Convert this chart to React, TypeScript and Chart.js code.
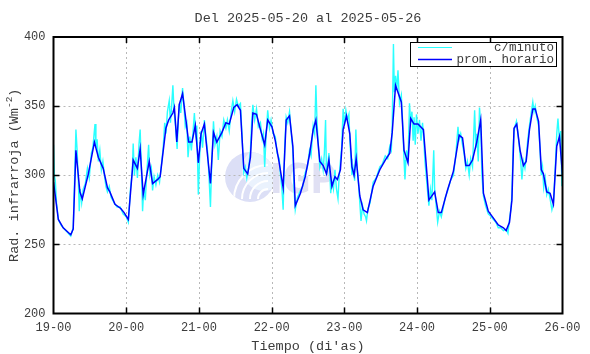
import { useEffect, useRef } from "react";
import { Chart, registerables } from "chart.js";

Chart.register(...registerables);

const TITLE = "Del 2025-05-20 al 2025-05-26";
const X_TITLE = "Tiempo (di'as)";
const Y_TITLE_MAIN = "Rad. infrarroja (Wm";
const Y_TITLE_SUP = "-2";
const Y_TITLE_END = ")";
const xTickLabels = ["19-00", "20-00", "21-00", "22-00", "23-00", "24-00", "25-00", "26-00"];
const yTicks = [200, 250, 300, 350, 400];
const legendLabels = ["c/minuto", "prom. horario"];

// hourly average (hours since 19-00)
const blueHours = [
  0, 1.6, 3.2, 5.7, 6.5, 7.4, 8.7, 9.5, 11.5, 13.5,
  14.8, 16.4, 17.8, 18.6, 20.3, 22.2, 23.3, 24.7, 26.3, 27.7,
  28.6, 29.6, 31.6, 32.7, 34.4, 35.2, 37.1, 38, 39.4, 39.9,
  40.7, 41.5, 42.6, 43.7, 44.6, 45.7, 46.8, 47.8, 48.7, 49.8,
  50.9, 51.8, 52.8, 53.9, 55.6, 56.9, 58, 59.5, 60.6, 61.7,
  62.8, 64.1, 65, 65.8, 67, 68.3, 69.7, 70.7, 72.1, 73.2,
  74.5, 75.8, 76.8, 77.9, 79, 79.8, 81.5, 83.1, 84.5, 85.7,
  86.6, 87.9, 89, 90.1, 90.9, 91.9, 92.9, 93.7, 94.7, 95.6,
  96.7, 97.8, 98.5, 99.2, 99.9, 101.1, 102.2, 103.6, 105.5, 107.7,
  109.5, 111, 111.8, 112.9, 114.8, 115.7, 117, 117.9, 119, 120.3,
  122.1, 123.4, 123.9, 125.8, 127, 128, 130, 132, 133.9, 135,
  136.1, 137.2, 138.3, 139.7, 141, 141.9, 143.5, 145.2, 146.8, 148.5,
  149.4, 150.5, 151.3, 152, 152.9, 154, 155.1, 156, 157.1, 158.2,
  159, 160.1, 161, 161.7, 162.8, 163.9, 165, 166.1, 167, 168,
];
const blueValues = [
  295, 268, 262, 257, 261, 318, 288, 283, 301, 324,
  313, 305, 291, 288, 279, 276, 273, 268, 311, 305,
  319, 286, 310, 294, 297, 299, 334, 340, 345, 349,
  324, 351, 359, 340, 324, 324, 336, 309, 330, 337,
  313, 294, 331, 324, 331, 338, 337, 349, 351, 347,
  305, 301, 313, 345, 344, 333, 322, 340, 335, 325,
  309, 291, 340, 343, 321, 278, 287, 299, 315, 333,
  340, 310, 307, 301, 311, 292, 299, 297, 304, 333,
  343, 330, 306, 300, 312, 285, 275, 273, 292, 304,
  311, 316, 331, 365, 353, 318, 309, 341, 337, 337,
  333, 297, 282, 288, 273, 273, 289, 303, 329, 327,
  307, 307, 311, 324, 340, 287, 274, 269, 264, 262,
  260, 266, 282, 334, 337, 318, 307, 310, 333, 348,
  348, 339, 304, 301, 288, 287, 279, 321, 328, 300,
];

// per-minute readings, estimated [hour, value]
const minuteSamples: [number, number][] = [
  [0, 322], [0.3, 300], [0.6, 296], [1, 280], [1.6, 268], [2.5, 264], [3.2, 262], [4.5, 259], [5.7, 256], [6.5, 262],
  [7, 300], [7.4, 333], [7.8, 318], [8.2, 296], [8.5, 274], [8.8, 290], [9.3, 280], [9.8, 290], [10.5, 294], [11.2, 305],
  [11.8, 298], [12.5, 316], [13, 320], [13.4, 330], [13.7, 337], [14, 320], [14.4, 326], [14.8, 310], [15.3, 318], [15.8, 304],
  [16.3, 310], [16.8, 300], [17.3, 292], [17.8, 288], [18.4, 292], [19, 284], [20, 280], [21, 277], [22, 277], [23, 272],
  [24, 270], [24.7, 266], [25.4, 290], [26, 302], [26.3, 323], [26.7, 300], [27.2, 313], [27.7, 298], [28.2, 322], [28.6, 333],
  [29, 306], [29.4, 274], [29.8, 290], [30.3, 282], [30.8, 302], [31.4, 322], [31.8, 300], [32.3, 305], [32.7, 289], [33.2, 299],
  [33.8, 293], [34.4, 300], [35, 295], [35.5, 305], [36.2, 320], [36.7, 338], [37.1, 330], [37.6, 346], [38.2, 354], [38.6, 338],
  [39, 350], [39.4, 365], [39.8, 346], [40.3, 335], [40.8, 319], [41.2, 340], [41.6, 352], [42, 345], [42.6, 363], [43, 352],
  [43.5, 335], [44, 338], [44.4, 313], [45, 328], [45.5, 318], [46, 330], [46.5, 345], [46.9, 330], [47.3, 336], [47.8, 286],
  [48.2, 312], [48.7, 332], [49.2, 320], [49.8, 340], [50.3, 328], [50.9, 316], [51.3, 300], [51.8, 277], [52.2, 306], [52.8, 339],
  [53.3, 322], [53.9, 328], [54.4, 311], [55, 332], [55.6, 328], [56.2, 340], [56.9, 334], [57.4, 340], [58, 332], [58.6, 345],
  [59.2, 354], [59.8, 346], [60.4, 355], [61, 350], [61.7, 352], [62.2, 330], [62.8, 302], [63.3, 306], [63.8, 298], [64.4, 305],
  [65, 318], [65.4, 338], [65.8, 351], [66.4, 340], [67, 348], [67.6, 335], [68.3, 338], [68.9, 326], [69.3, 330], [69.7, 306],
  [70.2, 330], [70.7, 347], [71.3, 334], [71.8, 340], [72.5, 330], [73.2, 328], [73.8, 316], [74.5, 312], [75, 298], [75.4, 290],
  [75.8, 275], [76.3, 320], [76.8, 342], [77.3, 338], [77.9, 346], [78.5, 330], [79, 318], [79.4, 290], [79.8, 275], [80.5, 284],
  [81.5, 289], [82.3, 292], [83.1, 302], [83.8, 306], [84.5, 318], [85, 314], [85.7, 336], [86.2, 330], [86.6, 365], [87, 338],
  [87.5, 318], [87.9, 306], [88.5, 312], [89, 304], [89.4, 316], [89.8, 340], [90.1, 300], [90.5, 306], [90.9, 316], [91.5, 287],
  [91.9, 296], [92.4, 290], [92.9, 304], [93.4, 290], [93.9, 283], [94.3, 300], [94.7, 310], [95.1, 320], [95.6, 348], [96, 336],
  [96.5, 347], [97, 340], [97.5, 344], [97.8, 326], [98.2, 312], [98.5, 300], [98.9, 305], [99.4, 296], [99.8, 333], [100.3, 304],
  [100.8, 290], [101.1, 280], [101.5, 267], [102, 278], [102.5, 272], [103, 270], [103.3, 267], [103.8, 276], [104.5, 280], [105.5, 295],
  [106.5, 298], [107.7, 306], [108.5, 308], [109.5, 314], [110.3, 312], [111, 321], [111.5, 318], [111.8, 336], [112.2, 395], [112.5, 360],
  [112.9, 372], [113.3, 362], [113.7, 376], [114.2, 352], [114.8, 358], [115.2, 340], [115.7, 311], [116, 297], [116.5, 318], [117, 310],
  [117.5, 352], [117.9, 338], [118.3, 346], [118.7, 325], [119, 342], [119.4, 322], [119.8, 344], [120.3, 330], [120.8, 340], [121.3, 325],
  [121.8, 338], [122.1, 330], [122.6, 310], [123, 300], [123.4, 290], [123.9, 278], [124.4, 290], [124.9, 282], [125.5, 318], [125.8, 290],
  [126.3, 278], [126.8, 266], [127.4, 274], [128, 270], [128.6, 276], [129.3, 284], [130, 288], [131, 296], [132, 300], [132.8, 315],
  [133.5, 335], [133.9, 326], [134.4, 330], [135, 322], [135.5, 316], [136.1, 305], [136.6, 310], [137.2, 300], [137.7, 312], [138.3, 306],
  [138.7, 330], [139, 347], [139.4, 320], [139.7, 330], [140.2, 310], [140.6, 349], [141, 338], [141.4, 300], [141.9, 285], [142.6, 278],
  [143.5, 272], [144.5, 270], [145.2, 268], [146, 266], [146.8, 262], [147.6, 262], [148.5, 260], [149.4, 261], [150, 258], [150.5, 268],
  [151, 276], [151.3, 286], [151.7, 320], [152, 332], [152.4, 336], [152.8, 339], [153.3, 330], [153.7, 322], [154.2, 310], [154.6, 297],
  [155.1, 310], [155.6, 305], [156, 312], [156.5, 325], [157.1, 336], [157.6, 344], [158.2, 353], [158.6, 346], [159, 350], [159.5, 342],
  [160.1, 336], [160.6, 318], [161, 300], [161.4, 306], [161.8, 291], [162.3, 298], [162.8, 286], [163.3, 290], [163.9, 283], [164.5, 275],
  [165, 280], [165.5, 300], [166.1, 330], [166.5, 341], [167, 325], [167.4, 332], [167.8, 292], [168, 309],
];

const FONT = '"Liberation Mono", "DejaVu Sans Mono", monospace';
const TEXT = "#3c3c3c";
const CYAN = "#2affff";
const BLUE = "#0000ff";

const decor = {
  id: "decor",
  beforeDatasetsDraw(chart: any) {
    const { ctx, chartArea: a, scales } = chart;
    const xs = scales.x;
    const ys = scales.y;
    ctx.save();
    // watermark logo
    const cx = 250, cy = 177, r = 25;
    ctx.save();
    ctx.beginPath();
    ctx.arc(cx, cy, r, 0, Math.PI * 2);
    ctx.fillStyle = "#dcdff6";
    ctx.fill();
    ctx.clip();
    ctx.beginPath();
    ctx.arc(cx + 14, cy - 8, 22, 0, Math.PI * 2);
    ctx.fillStyle = "#eaf2fd";
    ctx.fill();
    ctx.strokeStyle = "#ffffff";
    ctx.lineWidth = 2;
    for (const rr of [10, 18, 26, 34]) {
      ctx.beginPath();
      ctx.arc(cx + 18, cy + 22, rr, Math.PI, Math.PI * 1.5);
      ctx.stroke();
    }
    ctx.restore();
    ctx.fillStyle = "#e0e0f3";
    ctx.font = 'bold 40px "DejaVu Sans", sans-serif';
    ctx.textBaseline = "alphabetic";
    ctx.textAlign = "left";
    ctx.save();
    ctx.translate(270, 193);
    ctx.scale(0.85, 1);
    ctx.fillText("IGP", 0, 0);
    ctx.restore();

    // dotted grid
    ctx.strokeStyle = "#b8b8b8";
    ctx.lineWidth = 1;
    ctx.setLineDash([2, 3]);
    for (let i = 1; i < xTickLabels.length - 1; i++) {
      const px = Math.round(xs.getPixelForValue(i * 24)) + 0.5;
      ctx.beginPath();
      ctx.moveTo(px, a.top);
      ctx.lineTo(px, a.bottom);
      ctx.stroke();
    }
    for (let i = 1; i < yTicks.length - 1; i++) {
      const py = Math.round(ys.getPixelForValue(yTicks[i])) + 0.5;
      ctx.beginPath();
      ctx.moveTo(a.left, py);
      ctx.lineTo(a.right, py);
      ctx.stroke();
    }
    ctx.restore();
  },
  afterDatasetsDraw(chart: any) {
    const { ctx, chartArea: a, scales } = chart;
    const xs = scales.x;
    const ys = scales.y;
    ctx.save();
    ctx.setLineDash([]);
    // frame
    ctx.strokeStyle = "#000";
    ctx.lineWidth = 2;
    ctx.strokeRect(a.left, a.top, a.right - a.left, a.bottom - a.top);
    // inward ticks
    ctx.lineWidth = 1.5;
    const tl = 6;
    for (let i = 1; i < xTickLabels.length - 1; i++) {
      const px = Math.round(xs.getPixelForValue(i * 24)) + 0.5;
      ctx.beginPath();
      ctx.moveTo(px, a.bottom);
      ctx.lineTo(px, a.bottom - tl);
      ctx.moveTo(px, a.top);
      ctx.lineTo(px, a.top + tl);
      ctx.stroke();
    }
    for (let i = 1; i < yTicks.length - 1; i++) {
      const py = Math.round(ys.getPixelForValue(yTicks[i])) + 0.5;
      ctx.beginPath();
      ctx.moveTo(a.left, py);
      ctx.lineTo(a.left + tl, py);
      ctx.moveTo(a.right, py);
      ctx.lineTo(a.right - tl, py);
      ctx.stroke();
    }

    // legend
    const lx0 = 410, ly0 = 42, lx1 = 556, ly1 = 66;
    ctx.fillStyle = "#fff";
    ctx.fillRect(lx0, ly0, lx1 - lx0, ly1 - ly0);
    ctx.strokeStyle = "#000";
    ctx.lineWidth = 1;
    ctx.strokeRect(lx0 + 0.5, ly0 + 0.5, lx1 - lx0, ly1 - ly0);
    const rows = [
      { y: 47.5, color: CYAN, w: 1 },
      { y: 59.5, color: BLUE, w: 1.5 },
    ];
    ctx.font = `12.5px ${FONT}`;
    ctx.textAlign = "right";
    ctx.textBaseline = "middle";
    rows.forEach((row, i) => {
      ctx.strokeStyle = row.color;
      ctx.lineWidth = row.w;
      ctx.beginPath();
      ctx.moveTo(418, row.y);
      ctx.lineTo(452, row.y);
      ctx.stroke();
      ctx.fillStyle = TEXT;
      ctx.fillText(legendLabels[i], 554, row.y);
    });

    // titles
    ctx.fillStyle = TEXT;
    ctx.font = `13.5px ${FONT}`;
    ctx.textAlign = "center";
    ctx.textBaseline = "middle";
    const midX = (a.left + a.right) / 2;
    ctx.fillText(TITLE, midX, 18);
    ctx.fillText(X_TITLE, midX, 346);

    // y title with superscript
    ctx.save();
    ctx.translate(14, (a.top + a.bottom) / 2);
    ctx.rotate(-Math.PI / 2);
    ctx.textAlign = "left";
    ctx.font = `13.5px ${FONT}`;
    const w1 = ctx.measureText(Y_TITLE_MAIN).width;
    const w3 = ctx.measureText(Y_TITLE_END).width;
    ctx.font = `9.5px ${FONT}`;
    const w2 = ctx.measureText(Y_TITLE_SUP).width;
    const total = w1 + w2 + w3;
    let xx = -total / 2;
    ctx.font = `13.5px ${FONT}`;
    ctx.fillText(Y_TITLE_MAIN, xx, 0);
    xx += w1;
    ctx.font = `9.5px ${FONT}`;
    ctx.fillText(Y_TITLE_SUP, xx, -5);
    xx += w2;
    ctx.font = `13.5px ${FONT}`;
    ctx.fillText(Y_TITLE_END, xx, 0);
    ctx.restore();

    ctx.restore();
  },
};

export default function App() {
  const ref = useRef<HTMLCanvasElement | null>(null);
  useEffect(() => {
    if (!ref.current) return;
    const chart = new Chart(ref.current, {
      type: "line",
      data: {
        datasets: [
          {
            label: legendLabels[0],
            data: minuteSamples.map(([h, v]) => ({ x: h, y: v })),
            borderColor: CYAN,
            borderWidth: 1.4,
            pointRadius: 0,
            tension: 0,
            order: 1,
          },
          {
            label: legendLabels[1],
            data: blueHours.map((h, i) => ({ x: h, y: blueValues[i] })),
            borderColor: BLUE,
            borderWidth: 1.5,
            pointRadius: 0,
            tension: 0,
            order: 0,
          },
        ],
      },
      options: {
        animation: false,
        responsive: false,
        events: [],
        layout: { padding: { top: 37, right: 27.5, bottom: 0, left: 0 } },
        plugins: {
          legend: { display: false },
          title: { display: false },
          tooltip: { enabled: false },
        },
        scales: {
          x: {
            type: "linear",
            min: 0,
            max: 168,
            grid: { display: false, drawTicks: false },
            border: { display: false },
            ticks: {
              stepSize: 24,
              autoSkip: false,
              maxRotation: 0,
              padding: 7,
              color: TEXT,
              font: { family: FONT, size: 12 },
              callback: (v: any) => xTickLabels[Math.round(Number(v) / 24)] ?? "",
            },
            afterFit: (s: any) => {
              s.height = 40.5;
            },
          },
          y: {
            type: "linear",
            min: 200,
            max: 400,
            grid: { display: false, drawTicks: false },
            border: { display: false },
            ticks: {
              stepSize: 50,
              padding: 8,
              color: TEXT,
              font: { family: FONT, size: 12 },
              callback: (v: any) => (yTicks.includes(Number(v)) ? String(v) : ""),
            },
            afterFit: (s: any) => {
              s.width = 53.5;
            },
          },
        },
      },
      plugins: [decor],
    });
    return () => chart.destroy();
  }, []);
  return (
    <div style={{ position: "fixed", left: 0, top: 0, width: 590, height: 354, background: "#fff" }}>
      <canvas ref={ref} width={590} height={354} style={{ display: "block", width: 590, height: 354 }} />
    </div>
  );
}
